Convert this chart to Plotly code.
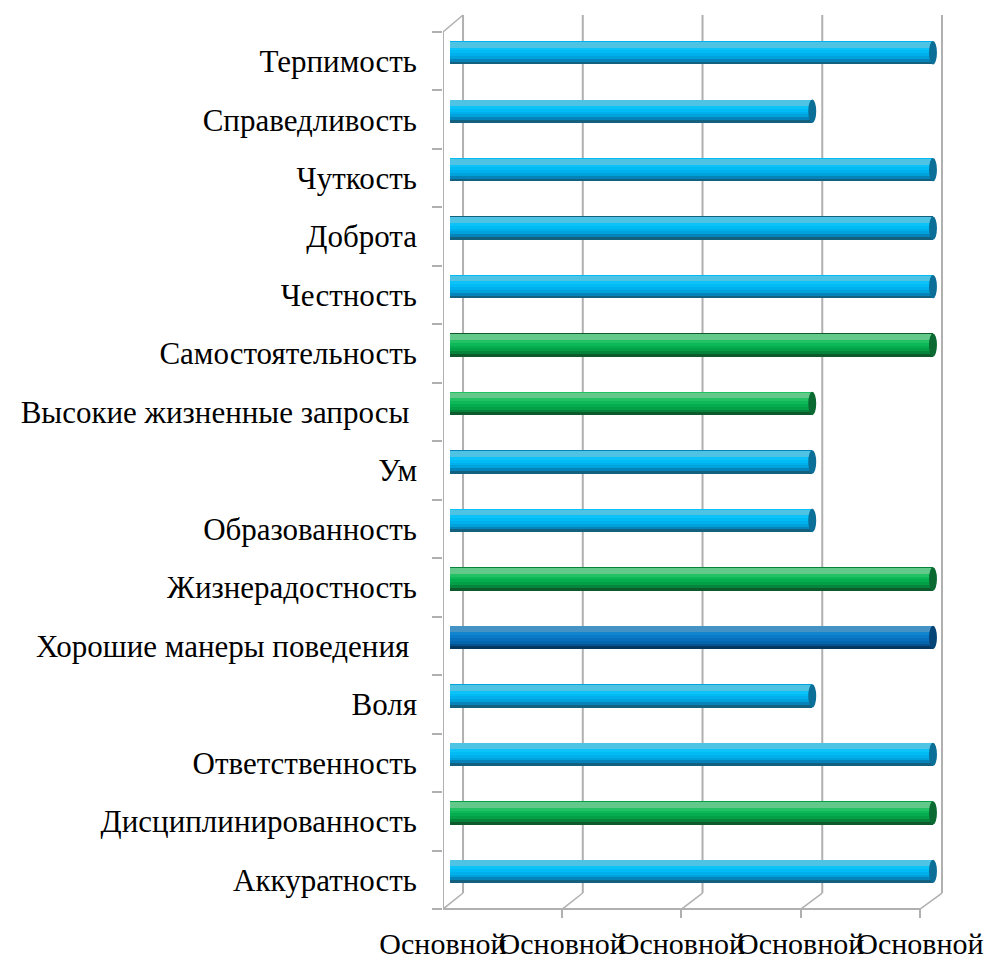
import plotly.graph_objects as go

# Данные (сверху вниз на рисунке)
categories = [
    "Терпимость",
    "Справедливость",
    "Чуткость",
    "Доброта",
    "Честность",
    "Самостоятельность",
    "Высокие жизненные запросы ",
    "Ум",
    "Образованность",
    "Жизнерадостность",
    "Хорошие манеры поведения ",
    "Воля",
    "Ответственность",
    "Дисциплинированность",
    "Аккуратность",
]
values = [4, 3, 4, 4, 4, 4, 3, 3, 3, 4, 4, 3, 4, 4, 4]
bar_groups = [
    "light", "light", "light", "light", "light", "green", "green", "light",
    "light", "green", "dark", "light", "light", "green", "light",
]
x_tick_labels = ["Основной"] * 5

# снизу вверх для числовой оси
categories = categories[::-1]
values = values[::-1]
bar_groups = bar_groups[::-1]

# оттенки цилиндров: от нижнего (тёмного) края к верхнему блику
PALETTES = {
    "light": ["#14607f", "#0683b8", "#00a2dc", "#00b0ec", "#00bbf4", "#0cc3f9", "#4fc3e3"],
    "green": ["#0e5a2c", "#07843c", "#03a048", "#05ad50", "#0db858", "#22c264", "#62c98a"],
    "dark":  ["#06375e", "#04528f", "#0565ad", "#0870bd", "#0a7bc9", "#1285d0", "#4592c5"],
}
CAP = {"light": "#0b6f98", "green": "#0a6a32", "dark": "#044476"}

FONT = "Liberation Serif, Times New Roman, serif"
GRID = "#b0b0b0"

BAR_SHIFT = 0.145     # смещение цилиндров вглубь (вверх)
BAR_W = 0.40          # толщина цилиндра в долях категории
BACK_X0, BACK_STEP = 0.108, 0.9917
FRONT_X0, FRONT_STEP = -0.058, 0.9876
Y_FRONT, Y_BACK = -0.5, -0.226
Y_TOP_FRONT, Y_TOP_BACK = len(categories) - 0.5, len(categories) - 0.21

ypos = list(range(len(categories)))
fig = go.Figure()

# слоистые полосы для объёма
n_layers = len(PALETTES["light"])
for k in range(n_layers):
    frac = 1 - k / (n_layers + 1)
    w = BAR_W * frac
    shift = BAR_SHIFT + (BAR_W - w) / 2 * 0.92
    fig.add_trace(go.Bar(
        x=values,
        y=[y + shift for y in ypos],
        orientation="h",
        width=w,
        marker=dict(color=[PALETTES[g][k] for g in bar_groups], line=dict(width=0)),
        hoverinfo="skip",
        showlegend=False,
    ))

shapes = []
# 3D-рамка: задняя стенка, пол, левая стенка
for k in range(5):
    xb = BACK_X0 + BACK_STEP * k
    xf = FRONT_X0 + FRONT_STEP * k
    shapes.append(dict(type="line", xref="x", yref="y", x0=xb, x1=xb, y0=Y_BACK, y1=Y_TOP_BACK,
                       line=dict(color=GRID, width=2), layer="below"))
    shapes.append(dict(type="line", xref="x", yref="y", x0=xf, x1=xb, y0=Y_FRONT, y1=Y_BACK,
                       line=dict(color=GRID, width=1.5), layer="below"))
shapes.append(dict(type="line", xref="x", yref="y", x0=FRONT_X0, x1=FRONT_X0 + FRONT_STEP * 4,
                   y0=Y_FRONT, y1=Y_FRONT, line=dict(color=GRID, width=2), layer="below"))
shapes.append(dict(type="line", xref="x", yref="y", x0=FRONT_X0, x1=FRONT_X0, y0=Y_FRONT,
                   y1=Y_TOP_FRONT, line=dict(color=GRID, width=2), layer="below"))
shapes.append(dict(type="line", xref="x", yref="y", x0=FRONT_X0, x1=BACK_X0, y0=Y_TOP_FRONT,
                   y1=Y_TOP_BACK, line=dict(color=GRID, width=1.5), layer="below"))

# торцы цилиндров
for y, v, g in zip(ypos, values, bar_groups):
    yc = y + BAR_SHIFT
    shapes.append(dict(type="circle", xref="x", yref="y", x0=v - 0.033, x1=v + 0.033,
                       y0=yc - BAR_W / 2, y1=yc + BAR_W / 2,
                       fillcolor=CAP[g], line=dict(width=0), layer="above"))

fig.update_layout(
    width=989,
    height=962,
    margin=dict(l=443, r=39, t=8, b=44),
    paper_bgcolor="white",
    plot_bgcolor="white",
    barmode="overlay",
    bargap=0,
    showlegend=False,
    shapes=shapes,
    font=dict(family=FONT, size=31, color="black"),
    xaxis=dict(
        range=[-0.058, 4.141],
        showgrid=False,
        zeroline=False,
        showline=False,
        automargin=False,
        tickmode="array",
        tickvals=[FRONT_X0 + FRONT_STEP * k for k in range(5)],
        ticktext=x_tick_labels,
        ticks="inside",
        ticklen=9,
        tickwidth=2,
        tickcolor=GRID,
        tickangle=0,
        ticklabelstandoff=5,
        tickfont=dict(family=FONT, size=30, color="black"),
    ),
    yaxis=dict(
        range=[-0.653, 14.91],
        showgrid=False,
        zeroline=False,
        showline=False,
        automargin=False,
        tickmode="array",
        tickvals=ypos,
        ticktext=categories,
        ticks="",
        ticklabelstandoff=25,
        tickfont=dict(family=FONT, size=31, color="black"),
        minor=dict(tickmode="array", tickvals=[y - 0.5 for y in ypos] + [len(ypos) - 0.5],
                   ticks="outside", ticklen=10, tickwidth=2, tickcolor=GRID),
    ),
)

fig.write_html("out.html", config={"displayModeBar": False},
               post_script="document.body.style.margin='0';")
